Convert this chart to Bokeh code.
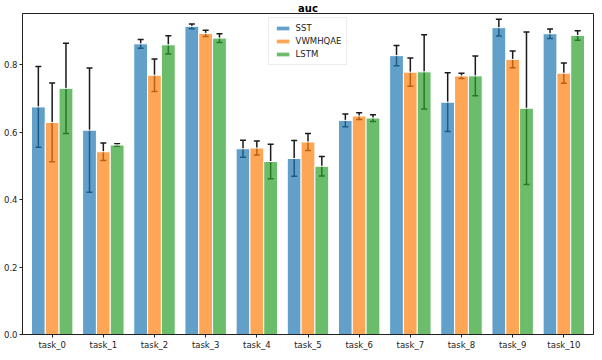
from bokeh.plotting import figure
from bokeh.models import ColumnDataSource, FactorRange, Whisker, TeeHead, FixedTicker, Legend, LegendItem
from bokeh.models import CustomJSTickFormatter
from bokeh.transform import dodge
from bokeh.embed import file_html
from bokeh.resources import INLINE

tasks = ["task_0", "task_1", "task_2", "task_3", "task_4", "task_5",
         "task_6", "task_7", "task_8", "task_9", "task_10"]
series = ["SST", "VWMHQAE", "LSTM"]

sst = [0.675, 0.606, 0.862, 0.914, 0.551, 0.522, 0.635, 0.827, 0.689, 0.910, 0.892]
sst_err = [0.120, 0.184, 0.013, 0.007, 0.025, 0.053, 0.019, 0.030, 0.087, 0.025, 0.014]

vwm = [0.629, 0.542, 0.769, 0.893, 0.553, 0.571, 0.648, 0.778, 0.767, 0.816, 0.775]
vwm_err = [0.117, 0.026, 0.048, 0.009, 0.021, 0.025, 0.010, 0.042, 0.008, 0.025, 0.030]

lstm = [0.730, 0.562, 0.859, 0.879, 0.513, 0.499, 0.642, 0.779, 0.767, 0.671, 0.887]
lstm_err = [0.134, 0.004, 0.027, 0.013, 0.051, 0.029, 0.010, 0.110, 0.059, 0.226, 0.014]

colors = ["#1f77b4", "#ff7f0e", "#2ca02c"]
font = "DejaVu Sans"

p = figure(width=594, height=352, output_backend="svg", toolbar_location=None,
           x_range=FactorRange(factors=tasks, range_padding=0.0145),
           y_range=(0, 0.952), title="auc",
           min_border_left=2, min_border_right=1, min_border_top=0, min_border_bottom=0)

p.title.align = "center"
p.title.text_font = font
p.title.text_font_size = "10px"
p.title.text_font_style = "bold"
p.title.text_color = "black"
p.title.standoff = 0
p.title.offset = 0

p.grid.visible = False
p.outline_line_color = "#222222"
p.outline_line_width = 1

width = 0.27
offsets = [-width, 0.0, width]
vals = [sst, vwm, lstm]
errs = [sst_err, vwm_err, lstm_err]

items = []
for name, v, e, c, off in zip(series, vals, errs, colors, offsets):
    src = ColumnDataSource(dict(task=tasks, val=v,
                                upper=[a + b for a, b in zip(v, e)],
                                lower=[a - b for a, b in zip(v, e)]))
    r = p.vbar(x=dodge("task", off, range=p.x_range), top="val", width=width,
               source=src, fill_color=c, fill_alpha=0.7,
               line_color="white", line_width=1)
    items.append(LegendItem(label=name, renderers=[r]))
    w = Whisker(base=dodge("task", off, range=p.x_range), upper="upper", lower="lower",
                source=src, line_color="#1a1a1a", line_width=1.5,
                upper_head=TeeHead(size=6, line_color="#1a1a1a", line_width=1.5),
                lower_head=TeeHead(size=6, line_color="#1a1a1a", line_width=1.5))
    p.add_layout(w)

legend = Legend(items=items, location="top_center", orientation="vertical")
legend.label_text_font = font
legend.label_text_font_size = "8.5px"
legend.label_text_color = "#222222"
legend.glyph_width = 17
legend.glyph_height = 6
legend.label_height = 10
legend.spacing = 3
legend.padding = 5
legend.margin = 4
legend.border_line_color = "#d9d9d9"
legend.border_line_width = 1
legend.background_fill_alpha = 0.9
p.add_layout(legend)

p.yaxis.ticker = FixedTicker(ticks=[0.0, 0.2, 0.4, 0.6, 0.8])
p.yaxis.formatter = CustomJSTickFormatter(code="return tick.toFixed(1);")

for ax in (p.xaxis, p.yaxis):
    ax.major_label_text_font = font
    ax.major_label_text_font_size = "8.5px"
    ax.major_label_text_color = "#222222"
    ax.axis_line_color = "#222222"
    ax.major_tick_line_color = "#222222"
    ax.major_tick_out = 3
    ax.major_tick_in = 0
    ax.minor_tick_line_color = None
    ax.major_label_standoff = 2
    ax.axis_label_standoff = 0
    ax.axis_label_text_font_size = "0px"

open("out.html", "w").write(file_html(p, INLINE))
